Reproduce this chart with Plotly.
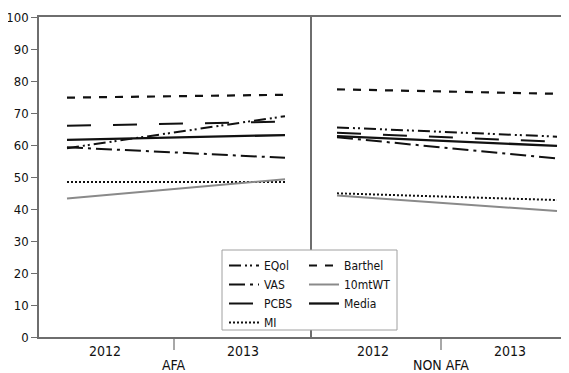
import plotly.graph_objects as go

# ---- data ----
YEARS = [2012, 2013]
GROUPS = ["AFA", "NON AFA"]
SERIES = ["EQol", "VAS", "PCBS", "MI", "Barthel", "10mtWT", "Media"]
AFA = {
    "EQol":    [59.0, 69.0],
    "VAS":     [59.3, 56.0],
    "PCBS":    [66.0, 67.3],
    "MI":      [48.4, 48.4],
    "Barthel": [74.8, 75.7],
    "10mtWT":  [43.3, 49.3],
    "Media":   [61.6, 63.1],
}
NON_AFA = {
    "EQol":    [65.5, 62.6],
    "VAS":     [62.4, 55.8],
    "PCBS":    [63.8, 61.0],
    "MI":      [44.9, 42.8],
    "Barthel": [77.4, 76.0],
    "10mtWT":  [44.2, 39.4],
    "Media":   [62.8, 59.7],
}
Y_TICKS = list(range(0, 101, 10))

# ---- styles ----
STYLE = {
    "EQol":    dict(color="#111111", dash="12px,4px,2px,3px,2px,4px", width=2),
    "VAS":     dict(color="#111111", dash="16px,5px,3px,5px", width=2),
    "PCBS":    dict(color="#111111", dash="24px,22px", width=2),
    "MI":      dict(color="#111111", dash="2px,2px", width=2),
    "Barthel": dict(color="#111111", dash="8px,8px", width=2.2),
    "10mtWT":  dict(color="#8a8a8a", dash="solid", width=2),
    "Media":   dict(color="#111111", dash="solid", width=2.3),
}
LEGEND_OF = {"EQol": "legend", "VAS": "legend", "PCBS": "legend", "MI": "legend",
             "Barthel": "legend2", "10mtWT": "legend2", "Media": "legend2"}

# page is offset by the default 8px body margin
OFF = 8
PAGE_W, PAGE_H = 569, 373
W, H = PAGE_W - OFF, PAGE_H - OFF
PL, PT, PB = 39, 17, 337          # plot edges in page pixels
L, T = PL - OFF, PT - OFF
B = H - (PB - OFF)
R = 0
PW, PH = W - L - R, H - T - B
DIV_PX = 311

def px_x(px):
    return (px - OFF - L) / PW

def px_y(py):
    return (PB - py) / PH

# pixel geometry (page px) of each group's axis: (left px, right px, px of 2012, px per year)
AX_AFA = (PL, DIV_PX, 67, 218.0)
AX_NON = (DIV_PX, PAGE_W, 337, 220.0)

def to_year(px, ax):
    return YEARS[0] + (px - ax[2]) / ax[3]

fig = go.Figure()
for name in SERIES:
    st = STYLE[name]
    fig.add_trace(go.Scatter(x=YEARS, y=AFA[name], mode="lines", name=name,
                             line=dict(color=st["color"], dash=st["dash"], width=st["width"]),
                             xaxis="x", yaxis="y", legend=LEGEND_OF[name], showlegend=True))
    fig.add_trace(go.Scatter(x=YEARS, y=NON_AFA[name], mode="lines", name=name,
                             line=dict(color=st["color"], dash=st["dash"], width=st["width"]),
                             xaxis="x2", yaxis="y", showlegend=False))

AXC = "#6e6e6e"
FONT = "DejaVu Sans Condensed, Liberation Sans, Arial, sans-serif"
label_px_afa = [105, 243]
label_px_non = [373, 510]

fig.update_layout(
    width=W, height=H,
    margin=dict(l=L, r=R, t=T, b=B, autoexpand=False),
    paper_bgcolor="white", plot_bgcolor="white",
    font=dict(family=FONT, size=14, color="#111111"),
    xaxis=dict(domain=[0, px_x(DIV_PX)], range=[to_year(AX_AFA[0], AX_AFA), to_year(AX_AFA[1], AX_AFA)],
               tickvals=[to_year(p, AX_AFA) for p in label_px_afa], ticktext=[str(y) for y in YEARS],
               ticks="", showgrid=False, zeroline=False, showline=True, linecolor=AXC, linewidth=1.5,
               mirror=True, tickfont=dict(size=14)),
    xaxis2=dict(domain=[px_x(DIV_PX), 1], range=[to_year(AX_NON[0], AX_NON), to_year(AX_NON[1], AX_NON)],
                tickvals=[to_year(p, AX_NON) for p in label_px_non], ticktext=[str(y) for y in YEARS],
                ticks="", showgrid=False, zeroline=False, showline=True, linecolor=AXC, linewidth=1.5,
                mirror=True, anchor="y", tickfont=dict(size=14)),
    yaxis=dict(range=[0, 100], tickvals=Y_TICKS, ticks="outside", ticklen=6, tickcolor=AXC,
               showgrid=False, zeroline=False, showline=True, linecolor=AXC, linewidth=1.5,
               tickfont=dict(size=13)),
    legend=dict(x=px_x(224), y=px_y(251), xanchor="left", yanchor="top", bgcolor="rgba(0,0,0,0)",
                font=dict(size=12), tracegroupgap=0, itemwidth=30),
    legend2=dict(x=px_x(304), y=px_y(251), xanchor="left", yanchor="top", bgcolor="rgba(0,0,0,0)",
                 font=dict(size=12), tracegroupgap=0, itemwidth=30),
)

shapes = [
    dict(type="line", xref="paper", yref="paper", x0=px_x(DIV_PX), x1=px_x(DIV_PX), y0=0, y1=1,
         line=dict(color=AXC, width=2)),
    dict(type="rect", xref="paper", yref="paper", x0=px_x(222), x1=px_x(397), y0=px_y(330), y1=px_y(250),
         line=dict(color="#a0a0a0", width=1), fillcolor="white", layer="above"),
]
annotations = []
for gname, ax, xref, tick_px in [(GROUPS[0], AX_AFA, "x", 174), (GROUPS[1], AX_NON, "x2", 441)]:
    xv = to_year(tick_px, ax)
    shapes.append(dict(type="line", xref=xref, yref="paper", x0=xv, x1=xv, y0=0, y1=-13 / PH,
                       line=dict(color=AXC, width=1.2)))
    annotations.append(dict(x=xv, xref=xref, y=px_y(365), yref="paper", text=gname, showarrow=False,
                            xanchor="center", yanchor="middle", font=dict(size=14)))
fig.update_layout(shapes=shapes, annotations=annotations)

fig.write_html("out.html")
